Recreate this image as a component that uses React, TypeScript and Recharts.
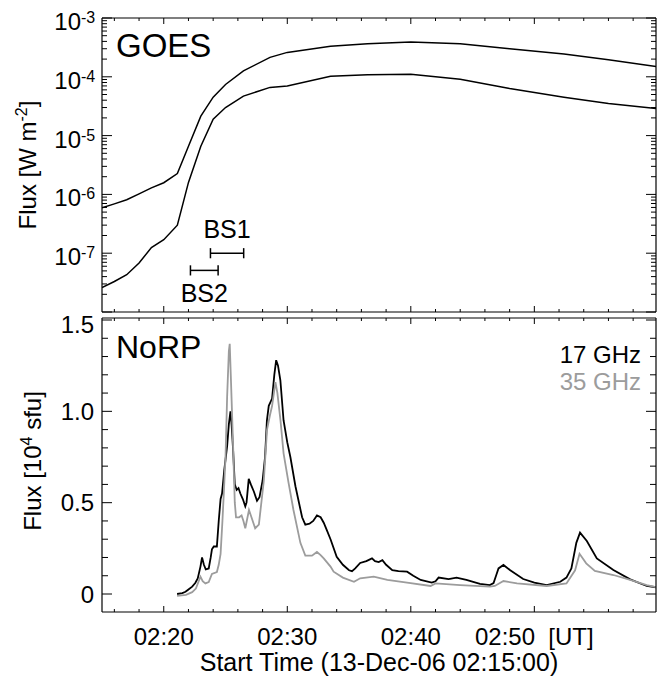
import React from 'react';
import { LineChart, Line, XAxis, YAxis, ReferenceLine } from 'recharts';

const FONT = "'Liberation Sans', Arial, Helvetica, sans-serif";

// ---- GOES (minutes after 02:15 UT) ----
const goesTimes = [0, 1, 2, 3, 4, 5, 6.1, 7, 8, 9, 10, 11.45, 13.6, 15, 18.5, 21.5, 25, 29, 33, 37.4, 41, 44.85];
const goesLong = [5.9e-7, 6.9e-7, 8.1e-7, 1.02e-6, 1.29e-6, 1.58e-6, 2.26e-6, 6.6e-6, 2.14e-5, 4.5e-5, 7.4e-5, 1.26e-4, 2.14e-4, 2.6e-4, 3.3e-4, 3.65e-4, 3.9e-4, 3.65e-4, 3.0e-4, 2.45e-4, 1.95e-4, 1.5e-4];
const goesShort = [2.6e-8, 3.3e-8, 4.3e-8, 6.8e-8, 1.25e-7, 1.7e-7, 3.0e-7, 1.6e-6, 6.6e-6, 1.9e-5, 3.0e-5, 4.7e-5, 6.6e-5, 7.0e-5, 1.02e-4, 1.08e-4, 1.11e-4, 9.1e-5, 6.3e-5, 4.5e-5, 3.5e-5, 2.9e-5];

// ---- NoRP 17 GHz ----
const norpTimes17 = [6.08, 6.5, 6.76, 7.0, 7.3, 7.55, 7.75, 7.97, 8.1, 8.25, 8.4, 8.64, 8.8, 8.9, 9.05, 9.3, 9.45, 9.6, 9.72, 9.9, 10.13, 10.27, 10.4, 10.5, 10.62, 10.75, 10.9, 11.05, 11.2, 11.4, 11.6, 11.7, 11.88, 12.05, 12.3, 12.55, 12.75, 13.0, 13.2, 13.35, 13.5, 13.77, 13.95, 14.1, 14.25, 14.44, 14.7, 15.0, 15.25, 15.66, 16.2, 16.46, 16.8, 17.1, 17.4, 17.7, 17.95, 18.2, 18.5, 19.0, 19.5, 20.0, 20.24, 20.5, 20.9, 21.4, 21.86, 22.1, 22.4, 22.7, 23.0, 23.5, 24.0, 24.7, 25.2, 25.8, 26.7, 27.0, 27.25, 28.06, 28.7, 29.5, 30.6, 31.4, 31.7, 31.9, 32.1, 32.5, 33.05, 34.1, 35.0, 36.0, 37.1, 37.6, 38.0, 38.4, 38.7, 39.25, 40.06, 41.4, 42.76, 44.1, 44.85];
const norp17 = [0.0, 0.005, 0.012, 0.025, 0.04, 0.06, 0.085, 0.15, 0.2, 0.16, 0.135, 0.14, 0.2, 0.245, 0.26, 0.26, 0.4, 0.52, 0.55, 0.68, 0.81, 0.93, 1.0, 0.92, 0.78, 0.6, 0.57, 0.58, 0.55, 0.52, 0.48, 0.5, 0.63, 0.6, 0.56, 0.51, 0.53, 0.62, 0.75, 0.95, 1.03, 1.07, 1.2, 1.28, 1.25, 1.17, 0.95, 0.83, 0.75, 0.59, 0.42, 0.38, 0.385, 0.4, 0.43, 0.42, 0.39, 0.35, 0.3, 0.204, 0.16, 0.13, 0.125, 0.14, 0.17, 0.18, 0.195, 0.18, 0.175, 0.185, 0.16, 0.13, 0.125, 0.122, 0.1, 0.077, 0.062, 0.07, 0.09, 0.082, 0.09, 0.077, 0.055, 0.049, 0.06, 0.1, 0.14, 0.159, 0.13, 0.082, 0.062, 0.049, 0.067, 0.09, 0.14, 0.28, 0.336, 0.29, 0.195, 0.131, 0.08, 0.044, 0.037];

// ---- NoRP 35 GHz ----
const norpTimes35 = [6.08, 6.8, 7.3, 7.6, 7.97, 8.15, 8.37, 8.64, 8.9, 9.3, 9.45, 9.6, 9.75, 9.86, 10.0, 10.13, 10.27, 10.34, 10.45, 10.6, 10.75, 10.85, 11.1, 11.3, 11.45, 11.6, 11.9, 12.1, 12.4, 12.7, 13.1, 13.36, 13.6, 13.77, 14.04, 14.2, 14.45, 14.7, 15.1, 15.5, 16.06, 16.46, 17.0, 17.4, 17.7, 17.95, 18.5, 18.75, 19.5, 20.4, 20.9, 22.0, 23.1, 24.7, 26.6, 27.0, 29.0, 31.4, 31.8, 32.5, 33.6, 36.0, 37.6, 38.3, 38.66, 39.2, 39.9, 41.4, 42.76, 44.1, 44.85];
const norp35 = [-0.01, -0.005, 0.01, 0.03, 0.095, 0.07, 0.058, 0.065, 0.11, 0.12, 0.16, 0.22, 0.4, 0.55, 0.75, 1.08, 1.33, 1.37, 1.15, 0.84, 0.5, 0.42, 0.42, 0.43, 0.4, 0.36, 0.46, 0.42, 0.36, 0.38, 0.62, 0.9, 0.98, 1.03, 1.16, 1.1, 0.95, 0.77, 0.61, 0.46, 0.28, 0.21, 0.21, 0.23, 0.213, 0.195, 0.15, 0.122, 0.09, 0.067, 0.086, 0.095, 0.077, 0.062, 0.044, 0.058, 0.049, 0.04, 0.044, 0.071, 0.058, 0.044, 0.058, 0.13, 0.22, 0.168, 0.126, 0.104, 0.077, 0.049, 0.037];

// ---- time intervals ----
const bsNames = ['BS1', 'BS2'];
const bsStart = [8.78, 7.16];
const bsEnd = [11.47, 9.4];
const bsLevel = [1e-7, 5.1e-8];

// ---- ticks ----
const xDomain = [0, 44.85];
const xMajorTicks = [5, 15, 25, 35];
const xTickLabels = ['02:20', '02:30', '02:40', '02:50\u00a0\u00a0[UT]'];
const xMinorTicks = [1, 3, 7, 9, 11, 13, 17, 19, 21, 23, 27, 29, 31, 33, 37, 39, 41, 43];
const logDomain = [1e-8, 1e-3];
const logDecades = [-8, -7, -6, -5, -4, -3];
const logMajorTicks = logDecades.map((e) => Math.pow(10, e));
const logMinorTicks: number[] = [];
logDecades.slice(0, 5).forEach((e) => {
  for (let k = 2; k <= 9; k++) logMinorTicks.push(k * Math.pow(10, e));
});
const linDomain = [-0.0985, 1.511];
const linMajorTicks = [0, 0.5, 1.0, 1.5];
const linTickLabels = ['0', '0.5', '1.0', '1.5'];
const linMinorTicks = [0.1, 0.2, 0.3, 0.4, 0.6, 0.7, 0.8, 0.9, 1.1, 1.2, 1.3, 1.4];

const toSeries = (ts: number[], vs: number[]) => ts.map((t, i) => ({ t, v: vs[i] }));
const goesLongData = toSeries(goesTimes, goesLong);
const goesShortData = toSeries(goesTimes, goesShort);
const norp17Data = toSeries(norpTimes17, norp17);
const norp35Data = toSeries(norpTimes35, norp35);

// ---- layout ----
const W = 657;
const PLOT_W = 554;
const PLOT_H = 294;
const TOP_H = 313;
const BOT_OFFSET = 300;
const BOT_H = 376;
const al = { stroke: '#000', strokeWidth: 1.2 };

// pixel -> data unit helpers for tick lengths
const xPerPx = (xDomain[1] - xDomain[0]) / PLOT_W;
const logPerPx = (Math.log10(logDomain[1]) - Math.log10(logDomain[0])) / PLOT_H;
const linPerPx = (linDomain[1] - linDomain[0]) / PLOT_H;

const seg = (key: string, a: any, b: any) => (
  <ReferenceLine key={key} xAxisId="b" yAxisId="L" segment={[a, b]} stroke="#000" strokeWidth={1} ifOverflow="visible" />
);

const yTickMarks = (prefix: string, values: number[], lenPx: number) => {
  const out: any[] = [];
  values.forEach((v, i) => {
    out.push(seg(prefix + 'l' + i, { x: xDomain[0], y: v }, { x: xDomain[0] + lenPx * xPerPx, y: v }));
    out.push(seg(prefix + 'r' + i, { x: xDomain[1] - lenPx * xPerPx, y: v }, { x: xDomain[1], y: v }));
  });
  return out;
};

const xTickMarksLog = (prefix: string, values: number[], lenPx: number) => {
  const f = Math.pow(10, lenPx * logPerPx);
  const out: any[] = [];
  values.forEach((t, i) => {
    out.push(seg(prefix + 'b' + i, { x: t, y: logDomain[0] }, { x: t, y: logDomain[0] * f }));
    out.push(seg(prefix + 't' + i, { x: t, y: logDomain[1] / f }, { x: t, y: logDomain[1] }));
  });
  return out;
};

const xTickMarksLin = (prefix: string, values: number[], lenPx: number) => {
  const d = lenPx * linPerPx;
  const out: any[] = [];
  values.forEach((t, i) => {
    out.push(seg(prefix + 'b' + i, { x: t, y: linDomain[0] }, { x: t, y: linDomain[0] + d }));
    out.push(seg(prefix + 't' + i, { x: t, y: linDomain[1] - d }, { x: t, y: linDomain[1] }));
  });
  return out;
};

const LogTick = (p: any) => {
  const v = p.payload.value;
  const e = Math.round(Math.log10(v));
  if (e <= -8) return <g />;
  return (
    <g>
      <text x={81} y={p.y + 12} textAnchor="end" fontSize={24} fontFamily={FONT} fill="#000">10</text>
      <text x={81} y={p.y + 5} textAnchor="start" fontSize={16} fontFamily={FONT} fill="#000">{String(e)}</text>
    </g>
  );
};

const LinTick = (p: any) => {
  const v = p.payload.value;
  const i = linMajorTicks.indexOf(v);
  const dy = v >= 1.5 ? 13 : 8.5;
  return (
    <text x={94} y={p.y + dy} textAnchor="end" fontSize={24} fontFamily={FONT} fill="#000">{linTickLabels[i]}</text>
  );
};

const TimeTick = (p: any) => {
  const i = xMajorTicks.indexOf(p.payload.value);
  return (
    <text x={p.x} y={645 - BOT_OFFSET} textAnchor="middle" fontSize={24} fontFamily={FONT} fill="#000">{xTickLabels[i]}</text>
  );
};

const frameX = (withLabels: boolean) => [
  <XAxis key="b" xAxisId="b" orientation="bottom" mirror height={1} type="number" dataKey="t" domain={xDomain} allowDataOverflow ticks={xMajorTicks} tickLine={false} axisLine={al} tick={withLabels ? TimeTick : false} interval={0} />,
  <XAxis key="t" xAxisId="t" orientation="top" mirror height={1} type="number" dataKey="t" domain={xDomain} allowDataOverflow ticks={xMajorTicks} tickLine={false} axisLine={al} tick={false} interval={0} />,
];

export default function App() {
  const bsLines: any[] = [];
  bsNames.forEach((name, i) => {
    const lvl = bsLevel[i];
    const off = i === 0 ? -15 : 32;
    bsLines.push(
      <ReferenceLine
        key={name + 'h'}
        xAxisId="b"
        yAxisId="L"
        segment={[{ x: bsStart[i], y: lvl }, { x: bsEnd[i], y: lvl }]}
        stroke="#000"
        strokeWidth={1.5}
        label={{
          content: (lp: any) => {
            const vb = lp.viewBox || {};
            return (
              <text x={vb.x + vb.width / 2} y={vb.y + off} textAnchor="middle" fontSize={25} fontFamily={FONT} fill="#000">{name}</text>
            );
          },
        }}
      />,
      <ReferenceLine key={name + 'a'} xAxisId="b" yAxisId="L" segment={[{ x: bsStart[i], y: lvl / 1.22 }, { x: bsStart[i], y: lvl * 1.22 }]} stroke="#000" strokeWidth={1.5} />,
      <ReferenceLine key={name + 'c'} xAxisId="b" yAxisId="L" segment={[{ x: bsEnd[i], y: lvl / 1.22 }, { x: bsEnd[i], y: lvl * 1.22 }]} stroke="#000" strokeWidth={1.5} />
    );
  });

  return (
    <div style={{ position: 'absolute', left: 0, top: 0, width: W, height: 676, background: '#fff' }}>
      <div style={{ position: 'absolute', left: 0, top: 0 }}>
        <LineChart width={W} height={TOP_H} margin={{ top: 18, right: 1, bottom: 1, left: 102 }}>
          {frameX(false)}
          <YAxis yAxisId="L" orientation="left" mirror width={1} scale="log" type="number" domain={logDomain} allowDataOverflow ticks={logMajorTicks} tickLine={false} axisLine={al} tick={LogTick} interval={0} />
          <YAxis yAxisId="R" orientation="right" mirror width={1} scale="log" type="number" domain={logDomain} allowDataOverflow ticks={logMajorTicks} tickLine={false} axisLine={al} tick={false} interval={0} />
          {yTickMarks('M', logMajorTicks, 10)}
          {yTickMarks('m', logMinorTicks, 5)}
          {xTickMarksLog('X', xMajorTicks, 6)}
          {xTickMarksLog('x', xMinorTicks, 3)}
          <Line data={goesLongData} dataKey="v" xAxisId="b" yAxisId="L" type="linear" dot={false} stroke="#000" strokeWidth={1.5} isAnimationActive={false} />
          <Line data={goesShortData} dataKey="v" xAxisId="b" yAxisId="L" type="linear" dot={false} stroke="#000" strokeWidth={1.5} isAnimationActive={false} />
          {bsLines}
          <text x={116} y={57} fontSize={33} fontFamily={FONT} fill="#000">GOES</text>
          <text transform="rotate(-90)" x={-165} y={36} textAnchor="middle" fontSize={24} fontFamily={FONT} fill="#000">
            Flux [W m<tspan dy={-9} fontSize={16}>-2</tspan><tspan dy={9}>]</tspan>
          </text>
        </LineChart>
      </div>
      <div style={{ position: 'absolute', left: 0, top: BOT_OFFSET }}>
        <LineChart width={W} height={BOT_H} margin={{ top: 18, right: 1, bottom: BOT_H - 18 - PLOT_H, left: 102 }}>
          {frameX(true)}
          <YAxis yAxisId="L" orientation="left" mirror width={1} type="number" domain={linDomain} allowDataOverflow ticks={linMajorTicks} tickLine={false} axisLine={al} tick={LinTick} interval={0} />
          <YAxis yAxisId="R" orientation="right" mirror width={1} type="number" domain={linDomain} allowDataOverflow ticks={linMajorTicks} tickLine={false} axisLine={al} tick={false} interval={0} />
          {yTickMarks('M', linMajorTicks, 10)}
          {yTickMarks('m', linMinorTicks, 6)}
          {xTickMarksLin('X', xMajorTicks, 6)}
          {xTickMarksLin('x', xMinorTicks, 3)}
          <Line data={norp17Data} dataKey="v" xAxisId="b" yAxisId="L" type="linear" dot={false} stroke="#000" strokeWidth={1.8} isAnimationActive={false} />
          <Line data={norp35Data} dataKey="v" xAxisId="b" yAxisId="L" type="linear" dot={false} stroke="#9c9c9c" strokeWidth={1.8} isAnimationActive={false} />
          <text x={116} y={358 - BOT_OFFSET} fontSize={32} fontFamily={FONT} fill="#000">NoRP</text>
          <text x={641} y={363 - BOT_OFFSET} textAnchor="end" fontSize={24} fontFamily={FONT} fill="#000">17 GHz</text>
          <text x={641} y={390 - BOT_OFFSET} textAnchor="end" fontSize={24} fontFamily={FONT} fill="#9c9c9c">35 GHz</text>
          <text x={379} y={671 - BOT_OFFSET} textAnchor="middle" fontSize={25} fontFamily={FONT} fill="#000">Start Time (13-Dec-06 02:15:00)</text>
          <text transform="rotate(-90)" x={-(461 - BOT_OFFSET)} y={41} textAnchor="middle" fontSize={24} fontFamily={FONT} fill="#000">
            Flux [10<tspan dy={-9} fontSize={16}>4</tspan><tspan dy={9}> sfu]</tspan>
          </text>
        </LineChart>
      </div>
    </div>
  );
}
